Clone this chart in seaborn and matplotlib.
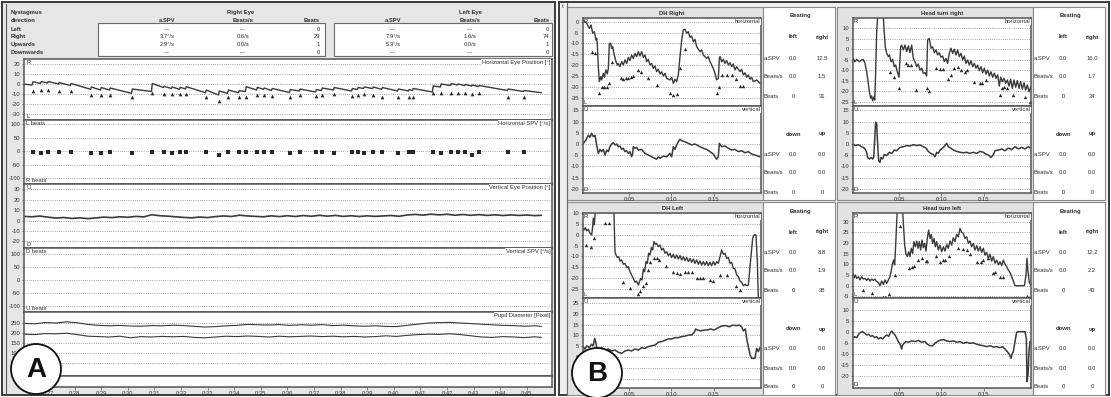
import matplotlib
matplotlib.use("Agg")
import matplotlib.pyplot as plt
import seaborn as sns
from matplotlib.patches import Rectangle, Circle
from matplotlib.lines import Line2D

# ---------------------------------------------------------------- data: panel A
beat_t = [26.44, 26.74, 27.00, 27.41, 27.86, 28.62, 28.99, 29.33, 30.16, 30.91,
          31.36, 31.66, 31.96, 32.19, 32.94, 33.43, 33.77, 34.18, 34.44, 34.86,
          35.12, 35.42, 36.10, 36.47, 37.08, 37.30, 37.75, 38.43, 38.65, 38.88,
          39.22, 39.56, 40.16, 40.57, 40.72, 41.47, 41.77, 42.15, 42.41, 42.68,
          42.94, 43.20, 44.29, 44.89]
beat_pos = [-7, -6, -6, -6.5, -7, -11, -11, -11, -12.7, -9,
            -10, -10, -10, -10, -13, -16.7, -13, -13, -13, -11,
            -11, -12, -13, -11, -12, -11, -10, -12, -11, -10,
            -11, -13, -13, -13, -13, -9, -9, -9, -9, -9,
            -10, -9, -13, -13]
beat_spv = [-3, -6, -5, -4, -3, -6, -6, -4, -6, -3,
            -5, -6, -5, -4, -4, -14, -3, -4, -4, -5,
            -4, -5, -6, -4, -5, -4, -6, -5, -4, -6,
            -5, -4, -6, -5, -4, -5, -6, -4, -5, -5,
            -15, -5, -4, -5]

hpos_t = [26.07, 26.40, 26.44, 26.72, 26.75, 26.98, 27.01, 27.39, 27.42, 27.84,
          27.87, 28.60, 28.63, 28.97, 29.00, 29.31, 29.34, 30.14, 30.17, 30.89,
          30.92, 31.34, 31.37, 31.64, 31.67, 31.94, 31.97, 32.17, 32.20, 32.92,
          32.95, 33.41, 33.44, 33.75, 33.78, 34.16, 34.19, 34.42, 34.45, 34.84,
          34.87, 35.10, 35.13, 35.40, 35.43, 36.08, 36.11, 36.45, 36.48, 37.06,
          37.09, 37.28, 37.31, 37.73, 37.76, 38.41, 38.44, 38.63, 38.66, 38.86,
          38.89, 39.20, 39.23, 39.54, 39.57, 40.14, 40.17, 40.55, 40.58, 40.70,
          40.73, 41.45, 41.48, 41.75, 41.78, 42.13, 42.16, 42.39, 42.42, 42.66,
          42.69, 42.92, 42.95, 43.18, 43.21, 44.27, 44.30, 44.87, 44.90, 45.55]
hpos_v = [0.0, -1.0, 2.3, 0.5, 2.5, 1.0, 2.5, 0.0, 1.5, -1.5,
          0.5, -5.3, -3.0, -6.0, -3.5, -6.0, -4.0, -9.3, -5.0, -7.5,
          0.5, -3.5, -2.3, -4.5, -3.0, -5.3, -3.3, -5.0, -2.7, -8.7,
          -6.0, -11.0, -7.0, -9.3, -6.0, -8.7, -6.7, -7.5, -2.7, -6.0,
          -3.3, -5.3, -4.0, -6.5, -4.5, -8.5, -5.5, -7.0, -5.0, -8.0,
          -5.5, -6.5, -4.0, -6.0, -3.5, -7.0, -4.5, -5.5, -3.5, -4.5,
          -3.0, -4.5, -3.0, -5.3, -3.5, -7.0, -5.0, -7.0, -5.5, -6.5,
          -4.5, -8.0, -2.0, -3.0, 0.0, -1.5, 0.5, -1.0, 0.0, -1.5,
          -0.5, -2.0, -1.0, -2.5, -1.5, -6.5, -5.0, -7.5, -6.5, -8.7]

vpos_t = [26.10, 26.40, 26.70, 27.00, 27.30, 27.60, 27.90, 28.20, 28.50, 28.80,
          29.10, 29.40, 29.70, 30.00, 30.30, 30.60, 30.90, 31.20, 31.50, 31.80,
          32.10, 32.40, 32.70, 33.00, 33.30, 33.60, 33.90, 34.20, 34.50, 34.80,
          35.10, 35.40, 35.70, 36.00, 36.30, 36.60, 36.90, 37.20, 37.50, 37.80,
          38.10, 38.40, 38.70, 39.00, 39.30, 39.60, 39.90, 40.20, 40.50, 40.80,
          41.10, 41.40, 41.70, 42.00, 42.30, 42.60, 42.90, 43.20, 43.50, 43.80,
          44.10, 44.40, 44.70, 45.00, 45.30, 45.55]
vpos_v = [4.0, 3.6, 4.3, 3.2, 2.4, 2.9, 2.0, 2.6, 1.8, 2.5,
          3.3, 2.8, 3.6, 3.1, 4.0, 3.5, 5.6, 4.6, 4.2, 3.6,
          3.0, 2.6, 3.4, 2.8, 3.8, 4.4, 3.9, 5.1, 4.4, 4.0,
          3.6, 4.5, 3.8, 4.6, 3.9, 4.8, 4.1, 5.0, 4.2, 4.9,
          4.0, 4.6, 3.9, 4.5, 4.0, 4.4, 4.8, 4.1, 5.3, 5.9,
          5.2, 6.1, 5.4, 6.0, 5.1, 5.8, 5.0, 5.7, 4.9, 5.5,
          4.8, 5.4, 4.9, 5.3, 4.7, 5.0]

pupil_t = [26.10, 26.50, 26.90, 27.30, 27.70, 28.10, 28.50, 28.90, 29.30, 29.70,
           30.10, 30.50, 30.90, 31.30, 31.70, 32.10, 32.50, 32.90, 33.30, 33.70,
           34.10, 34.50, 34.90, 35.30, 35.70, 36.10, 36.50, 36.90, 37.30, 37.70,
           38.10, 38.50, 38.90, 39.30, 39.70, 40.10, 40.50, 40.90, 41.30, 41.70,
           42.10, 42.50, 42.90, 43.30, 43.70, 44.10, 44.50, 44.90, 45.30, 45.55]
pupil_upper = [248, 246, 252, 250, 256, 251, 243, 238, 236, 238,
               235, 234, 237, 236, 239, 237, 233, 230, 232, 236,
               238, 243, 241, 240, 242, 238, 241, 239, 242, 237,
               239, 236, 234, 236, 233, 232, 238, 244, 250, 252,
               253, 250, 247, 244, 241, 238, 237, 234, 236, 233]
pupil_lower = [194, 192, 197, 196, 199, 192, 184, 182, 180, 184,
               176, 182, 180, 183, 181, 183, 178, 176, 180, 184,
               182, 185, 183, 180, 184, 181, 183, 185, 182, 184,
               181, 183, 180, 182, 186, 183, 188, 192, 194, 193,
               196, 192, 186, 180, 178, 182, 180, 177, 181, 178]

time_ticks_a = [27, 28, 29, 30, 31, 32, 33, 34, 35, 36, 37, 38, 39, 40, 41, 42, 43, 44, 45]
time_labels_a = ["0:27", "0:28", "0:29", "0:30", "0:31", "0:32", "0:33", "0:34", "0:35", "0:36",
                 "0:37", "0:38", "0:39", "0:40", "0:41", "0:42", "0:43", "0:44", "0:45"]

summary_rows = ["Left", "Right", "Upwards", "Downwards"]
right_eye_spv = ["---", "3.7°/s", "2.9°/s", "---"]
right_eye_rate = ["---", "0.6/s", "0.0/s", "---"]
right_eye_beats = ["0", "29", "1", "0"]
left_eye_spv = ["---", "7.9°/s", "5.3°/s", "---"]
left_eye_rate = ["---", "1.6/s", "0.0/s", "---"]
left_eye_beats = ["0", "74", "1", "0"]

# ---------------------------------------------------------------- data: panel B
dh_right_h = [(-0.37, 0.5), (0.02, -0.7), (0.33, -3.1), (0.53, -1.5), (0.73, -5.3), (0.92, -4.6),
              (1.12, -8.4), (1.20, -7.7), (1.27, -10.0), (1.39, -20.7), (1.51, -27.6), (1.67, -25.3),
              (1.78, -26.8), (1.98, -23.8), (2.10, -25.6), (2.29, -22.2), (2.45, -24.0), (2.57, -21.5),
              (2.69, -10.0), (2.84, -10.0), (2.96, -12.3), (3.08, -11.5), (3.27, -15.3), (3.47, -18.4),
              (3.63, -19.9), (3.75, -19.2), (3.94, -20.7), (4.14, -18.4), (4.33, -19.9), (4.53, -17.6),
              (4.73, -19.2), (4.92, -16.4), (5.12, -17.9), (5.31, -15.3), (5.51, -16.9), (5.71, -14.6),
              (5.90, -16.1), (6.10, -13.8), (6.29, -15.8), (6.49, -13.8), (6.69, -16.4), (6.88, -15.3),
              (7.08, -18.4), (7.27, -17.3), (7.47, -19.9), (7.67, -19.2), (7.86, -21.5), (8.06, -20.4),
              (8.25, -23.0), (8.45, -21.9), (8.65, -24.1), (8.84, -23.0), (9.04, -25.0), (9.24, -23.8),
              (9.43, -26.1), (9.82, -26.8), (10.02, -25.6), (10.22, -28.4), (10.41, -26.5), (10.61, -27.6),
              (10.80, -24.5), (11.00, -16.1), (11.20, -8.4), (11.39, -3.8), (11.59, -3.5), (11.78, -5.3),
              (11.98, -4.6), (12.18, -7.2), (12.37, -6.6), (12.57, -9.2), (12.76, -8.1), (12.96, -11.5),
              (13.35, -13.8), (13.55, -13.0), (13.75, -15.3), (14.14, -16.9), (14.33, -16.1), (14.53, -18.4),
              (14.72, -19.9), (14.92, -21.5), (15.12, -23.8), (15.31, -26.8), (15.51, -26.1), (15.63, -16.9),
              (15.71, -16.1), (15.90, -18.4), (16.10, -17.3), (16.29, -19.2), (16.49, -17.9), (16.69, -19.9),
              (16.88, -18.9), (17.08, -20.7), (17.27, -19.5), (17.47, -22.2), (17.67, -20.7), (18.06, -23.0),
              (18.25, -21.9), (18.45, -24.5), (18.65, -23.5), (18.84, -25.6), (19.04, -24.5), (19.24, -26.5),
              (19.43, -25.6), (19.63, -27.6), (20.02, -26.8), (20.41, -28.4)]
dh_right_tri = [(0.61, -14.1), (1.00, -14.6), (1.47, -33.0), (1.78, -30.2), (2.10, -30.2), (2.37, -30.0),
                (2.69, -28.4), (2.96, -18.4), (4.06, -26.1), (4.33, -26.5), (4.61, -26.1), (4.92, -25.8),
                (5.24, -25.3), (5.51, -25.0), (6.10, -22.2), (6.41, -23.0), (7.27, -25.8), (8.25, -29.1),
                (9.82, -33.0), (10.22, -33.7), (10.61, -33.5), (11.00, -21.5), (11.59, -12.7), (15.31, -32.7),
                (15.59, -30.2), (15.90, -24.5), (16.49, -24.5), (17.08, -24.5), (17.59, -26.5), (18.06, -29.6),
                (18.45, -29.6)]
dh_right_v = [(-0.37, 0.3), (-0.06, 1.8), (0.22, 4.0), (0.41, 3.0), (0.61, 4.8), (0.80, 3.3), (1.00, 3.9),
              (1.20, -0.4), (1.39, -4.2), (1.59, -2.4), (1.78, -3.4), (1.98, -2.4), (2.18, -4.9), (2.37, -2.7),
              (2.57, -3.4), (2.76, -1.2), (2.96, 0.0), (3.16, 0.6), (3.35, -0.4), (3.55, 0.0), (3.75, -1.2),
              (3.94, -0.9), (4.14, -2.4), (4.33, -1.9), (4.53, -3.4), (4.73, -3.0), (4.92, -4.2), (5.12, -3.4),
              (5.31, -5.7), (5.43, -4.2), (5.51, -1.2), (5.71, -1.9), (5.90, -1.5), (6.10, -2.7), (6.49, -2.4),
              (6.88, -4.2), (7.27, -4.9), (7.67, -5.7), (8.06, -6.4), (8.25, -6.8), (8.45, -5.7), (8.65, -6.4),
              (9.04, -5.4), (9.43, -5.7), (9.82, -4.2), (10.02, -5.7), (10.22, -1.2), (10.41, -2.4),
              (10.61, -0.4), (10.80, 1.0), (11.00, 2.1), (11.20, 1.5), (11.59, 1.0), (11.98, 0.3), (12.37, -0.4),
              (12.76, 0.0), (13.35, -1.2), (13.75, -1.9), (14.14, -2.4), (14.53, -3.4), (14.92, -4.5),
              (15.12, -5.7), (15.31, -6.8), (15.51, -5.7), (15.63, 0.3), (15.90, -1.2), (16.29, -0.9),
              (16.69, -1.9), (17.08, -2.7), (17.47, -2.4), (17.86, -3.4), (18.25, -3.0), (18.65, -3.9),
              (19.04, -3.4), (19.43, -4.5), (19.82, -4.9), (20.41, -5.7)]

ht_right_h = [(-0.41, -4.3), (-0.18, -5.9), (0.02, -4.8), (0.33, -5.9), (0.61, -5.1), (0.80, -4.8), (1.00, -6.7),
              (1.20, -10.7), (1.39, -16.2), (1.51, -20.2), (1.67, -23.3), (1.78, -22.2), (1.90, -24.5),
              (2.06, -22.6), (2.14, -24.1), (2.22, -16.2), (2.37, 7.6), (2.49, 15.5), (3.16, 15.5), (3.27, 7.6),
              (3.39, 1.2), (3.55, -1.9), (3.75, -3.5), (3.86, -2.7), (4.06, -5.9), (4.25, -4.8), (4.45, -8.3),
              (4.61, -7.5), (4.80, -10.7), (5.00, -13.3), (5.20, 1.2), (5.31, 2.0), (5.51, -0.3), (5.71, 2.0),
              (5.90, -1.1), (6.10, 1.6), (6.29, -1.6), (6.49, 2.0), (6.69, -4.3), (6.88, -5.9), (7.08, -8.3),
              (7.27, -7.0), (7.47, -9.9), (7.67, -9.0), (7.86, -11.4), (8.06, -11.1), (8.25, -12.7), (8.37, 4.4),
              (8.57, 5.2), (8.76, 0.5), (8.96, 1.2), (9.16, -1.6), (9.35, -0.3), (9.55, -2.7), (9.74, -1.6),
              (9.94, -3.8), (10.14, -3.2), (10.33, -5.9), (10.53, -4.3), (10.72, -6.7), (10.92, -1.9),
              (11.12, 0.5), (11.31, -1.9), (11.51, 0.0), (11.71, -2.7), (11.90, -0.3), (12.10, -3.5),
              (12.29, -1.9), (12.49, -5.1), (12.69, -3.2), (12.88, -6.7), (13.08, -5.1), (13.27, -7.5),
              (13.47, -5.4), (13.67, -8.3), (13.86, -6.7), (14.06, -9.0), (14.25, -7.5), (14.45, -10.2),
              (14.65, -8.3), (14.84, -11.1), (15.04, -9.0), (15.24, -11.8), (15.43, -9.9), (15.63, -12.7),
              (15.82, -10.7), (16.02, -13.3), (16.22, -11.4), (16.41, -13.8), (16.61, -12.2), (16.80, -17.5),
              (16.96, -13.3), (17.16, -15.4), (17.35, -13.8), (17.55, -16.2), (17.75, -14.6), (17.94, -17.5),
              (18.14, -14.3), (18.33, -18.6), (18.53, -14.6), (18.73, -18.1), (18.92, -14.9), (19.12, -18.6),
              (19.31, -15.4), (19.51, -19.0), (19.71, -15.9), (19.90, -19.4), (20.10, -17.0), (20.29, -20.2),
              (20.49, -18.1)]
ht_right_tri = [(3.94, -10.7), (4.45, -13.0), (5.04, -18.6), (5.82, -6.7), (6.10, -7.5), (6.37, -7.5),
                (7.00, -19.4), (8.25, -18.6), (8.53, -19.7), (9.35, -9.0), (9.82, -9.5), (10.14, -9.5),
                (10.80, -14.3), (11.08, -12.2), (11.51, -9.0), (11.90, -8.3), (12.29, -9.9), (12.76, -10.7),
                (13.04, -9.9), (13.82, -15.4), (14.53, -16.2), (14.76, -15.9), (15.24, -14.6), (16.88, -21.8),
                (17.08, -18.6), (17.39, -18.1), (17.67, -18.3), (18.37, -21.8), (19.82, -22.6), (20.41, -25.0)]
ht_right_v = [(-0.41, 0.0), (-0.18, -0.7), (0.22, -0.3), (0.61, -1.2), (0.80, -1.5), (1.00, -2.2), (1.20, -3.7),
              (1.31, -6.0), (1.51, -6.7), (1.71, -6.0), (1.90, -6.7), (2.02, -6.0), (2.14, 1.5), (2.25, 9.7),
              (2.37, 9.2), (2.49, 0.0), (2.61, -7.5), (2.76, -8.2), (2.88, -6.0), (3.08, -6.7), (3.27, -4.7),
              (3.55, -5.2), (3.86, -3.7), (4.14, -4.2), (4.45, -2.7), (4.73, -3.0), (5.12, -1.5), (5.51, -1.2),
              (5.90, -0.7), (6.29, -0.9), (6.69, -0.3), (7.08, -0.7), (7.47, -0.4), (7.86, -1.2), (8.18, -1.8),
              (8.45, -3.3), (8.73, -4.2), (9.04, -4.7), (9.24, -5.7), (9.43, -3.7), (9.63, -4.2), (9.82, -2.7),
              (10.14, -1.8), (10.41, -0.7), (10.61, 0.3), (10.80, -1.2), (11.08, -1.8), (11.39, -2.7),
              (11.78, -3.3), (12.18, -3.7), (12.57, -3.9), (12.96, -3.7), (13.35, -4.2), (13.75, -3.7),
              (14.14, -4.2), (14.53, -3.3), (14.92, -3.7), (15.24, -4.5), (15.51, -4.9), (15.82, -6.0),
              (16.10, -4.7), (16.29, -3.0), (16.69, -2.7), (17.08, -2.2), (17.47, -3.0), (17.86, -1.8),
              (18.25, -2.5), (18.65, -1.2), (19.04, -2.2), (19.43, -1.5), (19.82, -2.2), (20.22, -1.2),
              (20.50, -1.8)]

dh_left_h = [(-0.41, 3.1), (-0.29, 2.3), (-0.14, 3.4), (0.02, 1.9), (0.22, 2.6), (0.41, 0.8), (0.61, 0.0),
             (0.73, 3.9), (0.80, 7.8), (0.92, 4.7), (1.04, 10.8), (1.20, 14.0), (3.08, 14.0), (3.24, 9.3),
             (3.35, -7.8), (3.47, -9.3), (3.63, -10.5), (3.79, -10.1), (3.94, -12.1), (4.14, -11.6),
             (4.33, -13.6), (4.53, -13.2), (4.73, -15.2), (4.92, -14.7), (5.12, -17.1), (5.31, -18.6),
             (5.51, -20.2), (5.71, -22.0), (5.90, -21.4), (6.10, -23.3), (6.22, -22.0), (6.37, -20.2),
             (6.53, -20.9), (6.69, -15.8), (6.84, -17.1), (7.00, -12.4), (7.16, -13.2), (7.31, -8.5),
             (7.47, -9.3), (7.63, -5.9), (7.78, -7.0), (7.94, -3.1), (8.10, -4.3), (8.25, -3.9), (8.45, -5.4),
             (8.65, -4.7), (8.84, -7.0), (9.04, -6.2), (9.24, -8.5), (9.43, -7.8), (9.63, -9.6), (9.82, -8.5),
             (10.02, -10.5), (10.22, -9.0), (10.41, -10.9), (10.61, -9.3), (10.80, -11.2), (11.00, -9.6),
             (11.20, -11.6), (11.39, -10.1), (11.59, -11.9), (11.78, -10.5), (11.98, -12.4), (12.18, -10.9),
             (12.37, -12.7), (12.57, -11.2), (12.76, -13.2), (12.96, -11.6), (13.16, -13.6), (13.35, -12.1),
             (13.55, -14.0), (13.75, -12.4), (13.94, -14.0), (14.14, -12.4), (14.33, -14.3), (14.53, -12.7),
             (14.72, -14.3), (14.92, -12.4), (15.12, -14.0), (15.31, -12.4), (15.51, -13.2), (15.71, -10.1),
             (15.90, -7.0), (16.10, -9.0), (16.29, -8.5), (16.49, -10.9), (16.69, -10.5), (16.88, -13.2),
             (17.08, -12.7), (17.27, -15.5), (17.47, -15.8), (17.67, -18.6), (17.86, -19.4), (18.06, -21.4),
             (18.25, -22.0), (18.45, -23.6), (18.65, -22.9), (18.84, -23.6), (19.04, -23.3), (19.31, -11.6),
             (19.55, -1.6), (19.71, 0.0), (19.94, 0.0), (20.10, -12.4), (20.22, -29.5)]
dh_left_tri = [(-0.06, -4.7), (0.49, -5.7), (0.92, -1.2), (2.18, 5.4), (2.69, 5.4), (4.33, -22.0),
               (5.12, -24.8), (6.10, -27.6), (6.29, -26.0), (6.69, -23.7), (7.00, -22.5), (7.27, -16.3),
               (7.47, -12.7), (7.98, -10.9), (8.33, -10.5), (8.57, -11.6), (9.35, -14.3), (10.22, -17.1),
               (10.61, -17.8), (11.00, -18.3), (11.59, -17.1), (11.98, -17.1), (12.37, -17.4), (12.96, -19.8),
               (13.35, -20.2), (13.75, -20.2), (14.53, -20.9), (14.92, -21.4), (15.71, -18.6), (16.49, -18.6),
               (17.59, -23.6), (18.06, -25.6)]
dh_left_v = [(-0.41, 4.9), (-0.18, 3.8), (0.06, 5.3), (0.33, 4.4), (0.61, 6.0), (0.80, 5.3), (0.96, 8.7),
             (1.08, 7.2), (1.20, 4.4), (1.51, 3.8), (1.78, 4.4), (2.18, 3.3), (2.57, 3.8), (2.96, 2.9),
             (3.35, 3.3), (3.75, 2.3), (4.14, 1.8), (4.53, 2.9), (4.92, 3.3), (5.31, 2.9), (5.71, 3.8),
             (6.10, 3.3), (6.49, 4.4), (6.88, 4.1), (7.27, 4.9), (7.67, 5.3), (8.06, 5.6), (8.45, 6.9),
             (8.84, 7.2), (9.24, 7.8), (9.63, 8.4), (10.02, 8.4), (10.41, 9.0), (10.80, 9.0), (11.20, 9.5),
             (11.59, 9.7), (11.98, 10.2), (12.37, 10.2), (12.69, 11.5), (12.84, 13.0), (13.04, 12.5),
             (13.43, 12.1), (13.82, 12.5), (14.22, 12.5), (14.61, 13.0), (15.00, 12.5), (15.39, 13.3),
             (15.71, 14.0), (16.02, 14.5), (16.41, 14.5), (16.80, 14.0), (17.20, 14.8), (17.59, 14.5),
             (17.98, 14.8), (18.25, 14.0), (18.45, 12.1), (18.69, 13.0), (18.84, 8.7), (19.04, 4.9),
             (19.24, 1.1), (19.43, -0.5), (19.82, -0.5), (20.02, 4.1), (20.22, 2.6), (20.41, 4.4)]

ht_left_h = [(-0.41, 5.8), (-0.29, 3.7), (-0.14, 5.0), (0.02, 3.4), (0.22, 4.2), (0.41, 2.7), (0.61, 4.2),
             (0.80, 3.1), (1.00, 3.4), (1.20, 2.5), (1.39, 3.4), (1.59, 2.2), (1.78, 3.1), (1.98, 2.5),
             (2.18, 3.1), (2.37, 1.9), (2.57, 1.6), (2.76, 0.0), (2.96, 2.2), (3.16, 0.6), (3.35, 2.7),
             (3.55, 1.1), (3.75, 2.7), (3.94, 4.2), (4.10, 7.3), (4.25, 10.5), (4.37, 12.0), (4.49, 9.7),
             (4.61, 19.0), (4.73, 29.9), (4.80, 35.0), (5.43, 35.0), (5.55, 26.8), (5.67, 19.0), (5.82, 14.7),
             (5.98, 13.6), (6.14, 15.9), (6.29, 13.6), (6.45, 17.5), (6.61, 15.1), (6.76, 20.6), (6.92, 18.2),
             (7.08, 20.9), (7.24, 17.5), (7.39, 20.6), (7.55, 16.7), (7.71, 21.4), (7.86, 17.8), (8.02, 19.8),
             (8.18, 16.2), (8.33, 22.1), (8.49, 26.0), (8.65, 22.1), (8.80, 24.0), (8.96, 19.8), (9.12, 22.1),
             (9.27, 18.2), (9.43, 20.6), (9.63, 16.7), (9.82, 19.0), (10.02, 15.9), (10.22, 18.2),
             (10.41, 16.2), (10.61, 19.3), (10.80, 17.5), (11.00, 20.9), (11.20, 19.0), (11.39, 22.4),
             (11.59, 20.6), (11.78, 24.0), (11.98, 22.9), (12.18, 26.8), (12.37, 25.0), (12.57, 24.5),
             (12.76, 22.1), (12.96, 22.9), (13.16, 19.8), (13.35, 20.9), (13.55, 18.2), (13.75, 19.8),
             (13.94, 16.7), (14.14, 18.7), (14.33, 16.2), (14.53, 18.2), (14.72, 15.6), (14.92, 17.5),
             (15.12, 14.3), (15.31, 15.6), (15.51, 12.8), (15.71, 14.7), (15.90, 11.5), (16.10, 13.6),
             (16.29, 10.5), (16.49, 12.0), (16.69, 9.7), (16.88, 11.2), (17.08, 9.4), (17.27, 12.0),
             (17.47, 10.0), (17.67, 8.9), (17.86, 7.3), (18.06, 6.2), (18.25, 4.2), (18.45, 2.2), (18.65, 0.0),
             (19.75, 0.0), (19.94, 5.0), (20.06, 12.8), (20.18, 6.5), (20.33, 1.6), (20.50, 0.3)]
ht_left_tri = [(0.73, -2.0), (1.78, -3.3), (3.08, -5.4), (3.35, -5.1), (3.86, -3.9), (4.53, 5.0), (5.12, 27.9),
               (6.22, 8.4), (6.49, 8.9), (6.76, 9.3), (7.27, 12.0), (7.67, 13.1), (8.18, 11.5), (8.33, 11.5),
               (9.35, 13.9), (9.82, 11.2), (10.14, 12.0), (10.41, 12.0), (10.92, 13.9), (11.98, 17.5),
               (12.57, 17.0), (12.96, 16.7), (13.35, 14.7), (14.14, 11.2), (14.61, 11.2), (14.92, 12.0),
               (15.51, 12.8), (16.02, 6.1), (16.29, 6.5), (16.88, 4.2), (17.27, 4.2), (20.02, -4.8)]
ht_left_v = [(-0.41, -3.0), (-0.22, -2.3), (0.02, -2.7), (0.25, -1.2), (0.49, -0.3), (0.73, 0.0), (0.96, -0.7),
             (1.20, -1.5), (1.43, -1.2), (1.67, -2.1), (1.90, -1.8), (2.14, -2.7), (2.37, -2.3), (2.61, -3.3),
             (2.84, -2.7), (3.08, -3.3), (3.31, -2.3), (3.55, -1.5), (3.79, -2.1), (4.02, -0.3), (4.18, 0.3),
             (4.33, -0.7), (4.53, -1.5), (4.73, -3.0), (4.92, -4.5), (5.12, -5.7), (5.31, -7.9), (5.43, -6.1),
             (5.59, -5.3), (5.82, -4.5), (6.10, -4.8), (6.49, -4.2), (6.88, -4.5), (7.27, -4.0), (7.67, -4.8),
             (8.06, -4.5), (8.33, -5.7), (8.65, -6.4), (8.96, -6.4), (9.24, -5.3), (9.51, -4.5), (9.82, -3.9),
             (10.22, -3.6), (10.61, -4.2), (11.00, -4.5), (11.39, -4.2), (11.78, -4.8), (12.18, -4.5),
             (12.57, -5.3), (12.96, -4.8), (13.35, -5.3), (13.75, -5.1), (14.14, -5.7), (14.53, -6.1),
             (14.92, -6.4), (15.31, -6.8), (15.71, -6.4), (16.10, -7.0), (16.49, -6.8), (16.88, -7.3),
             (17.20, -6.8), (17.47, -7.9), (17.75, -9.1), (17.98, -10.3), (18.18, -12.1), (18.29, -10.3),
             (18.45, -9.1), (18.65, -4.5), (18.84, -0.3), (19.04, 0.0), (19.82, 0.0), (19.98, -3.0),
             (20.06, -22.7), (20.18, -19.7), (20.29, -9.1), (20.41, -4.5)]

time_ticks_b = [5, 10, 15]
time_labels_b = ["0:05", "0:10", "0:15"]

dh_right_table = [["0.0", "12.5"], ["0.0", "1.5"], ["0", "31"]]
ht_right_table = [["0.0", "16.0"], ["0.0", "1.7"], ["0", "34"]]
dh_left_table = [["0.0", "8.8"], ["0.0", "1.9"], ["0", "38"]]
ht_left_table = [["0.0", "12.2"], ["0.0", "2.2"], ["0", "43"]]
vertical_table = [["0.0", "0.0"], ["0.0", "0.0"], ["0", "0"]]
table_rows = ["a.SPV", "Beats/s", "Beats"]

# ---------------------------------------------------------------- style
sns.set_theme(style="white")
plt.rcParams['font.family'] = ['Liberation Sans', 'DejaVu Sans']
plt.rcParams['axes.unicode_minus'] = False

W, H = 1111, 397
fig = plt.figure(figsize=(W / 100, H / 100), dpi=100)
TXT = '#2e2e2e'
LINE = '#3a3a3a'
FS = 4.2


def px_axes(x0, y0, x1, y1):
    return fig.add_axes([x0 / W, 1 - y1 / H, (x1 - x0) / W, (y1 - y0) / H])


bg = px_axes(0, 0, W, H)
bg.set_xlim(0, W)
bg.set_ylim(H, 0)
bg.axis('off')
bg.set_zorder(-10)


def btext(x, y, s, ha='left', bold=False, size=FS, color=TXT):
    bg.text(x, y, s, ha=ha, va='center', fontsize=size, color=color,
            fontweight='bold' if bold else 'normal')


def style_axes(ax, xlim, ylim, yticks, xticks=None, xlabels=None):
    ax.set_facecolor('white')
    ax.set_xlim(*xlim)
    ax.set_ylim(*ylim)
    ax.set_yticks(yticks)
    ax.set_yticklabels([f'{v:g}' for v in yticks])
    ax.grid(axis='y', ls=(0, (1, 1.6)), lw=0.6, color='#8c8c8c')
    ax.grid(axis='x', visible=False)
    ax.tick_params(axis='y', direction='out', length=1.8, width=0.5, pad=1,
                   labelsize=FS, colors='#555', labelcolor=TXT, left=True)
    if xticks is not None:
        ax.set_xticks(xticks)
        ax.set_xticklabels(xlabels)
        ax.tick_params(axis='x', direction='out', length=1.8, width=0.5, pad=1,
                       labelsize=FS, colors='#555', labelcolor=TXT, bottom=True)
    else:
        ax.set_xticks([])
    ax.set_xlabel('')
    ax.set_ylabel('')
    for sp in ax.spines.values():
        sp.set_color('#555555')
        sp.set_linewidth(1.1)


def corner_text(ax, top, bottom, right):
    ax.text(0.004, 0.985, top, transform=ax.transAxes, ha='left', va='top', fontsize=FS, color=TXT)
    ax.text(0.004, 0.012, bottom, transform=ax.transAxes, ha='left', va='bottom', fontsize=FS, color=TXT)
    if right:
        ax.text(0.997, 0.985, right, transform=ax.transAxes, ha='right', va='top', fontsize=FS, color=TXT,
                bbox=dict(fc='white', ec='none', pad=0.4))


def trace(ax, pts=None, t=None, v=None, lw=0.9):
    if pts is not None:
        t = [p[0] for p in pts]
        v = [p[1] for p in pts]
    sns.lineplot(x=t, y=v, ax=ax, color=LINE, lw=lw, sort=False, estimator=None)


def marks(ax, pts=None, t=None, v=None, marker='^', size=7):
    if pts is not None:
        t = [p[0] for p in pts]
        v = [p[1] for p in pts]
    sns.scatterplot(x=t, y=v, ax=ax, marker=marker, s=size, color='#262626', linewidth=0)


# ---------------------------------------------------------------- panel A frame and summary table
bg.add_patch(Rectangle((2, 2), 553, 393, fc='#e6e6e6', ec='#3a3a3a', lw=1.4))
bg.add_line(Line2D([6, 6], [4, 394], color='#5a5a5a', lw=0.8))
bg.add_patch(Rectangle((98, 23), 227, 33, fc='white', ec='#6a6a6a', lw=0.8))
bg.add_patch(Rectangle((334, 23), 218, 33, fc='white', ec='#6a6a6a', lw=0.8))

row_y = [29.3, 36.5, 44.3, 52.3]
btext(11, 12.7, "Nystagmus", bold=True)
btext(11, 20.7, "direction", bold=True)
for name, y in zip(summary_rows, row_y):
    btext(11, y, name, bold=True)
btext(241, 12.7, "Right Eye", ha='center', bold=True)
btext(167, 20.7, "a.SPV", ha='center', bold=True)
btext(243, 20.7, "Beats/s", ha='center', bold=True)
btext(320, 20.7, "Beats", ha='right', bold=True)
btext(470, 12.7, "Left Eye", ha='center', bold=True)
btext(393, 20.7, "a.SPV", ha='center', bold=True)
btext(470, 20.7, "Beats/s", ha='center', bold=True)
btext(550, 20.7, "Beats", ha='right', bold=True)
for i, y in enumerate(row_y):
    btext(167, y, right_eye_spv[i], ha='center')
    btext(243, y, right_eye_rate[i], ha='center')
    btext(320, y, right_eye_beats[i], ha='right')
    btext(393, y, left_eye_spv[i], ha='center')
    btext(470, y, left_eye_rate[i], ha='center')
    btext(549, y, left_eye_beats[i], ha='right')

# ---------------------------------------------------------------- panel A recordings
XA = (26.098, 45.947)
ax1 = px_axes(24, 59, 552, 120)
trace(ax1, t=hpos_t, v=hpos_v, lw=1.0)
marks(ax1, t=beat_t, v=beat_pos, marker='^', size=7)
style_axes(ax1, XA, (-36, 25), [20, 10, 0, -10, -20, -30])
corner_text(ax1, "R", "L", "Horizontal Eye Position [°]")

ax2 = px_axes(24, 120, 552, 184)
marks(ax2, t=beat_t, v=beat_spv, marker='s', size=8)
style_axes(ax2, XA, (-122, 115), [100, 50, 0, -50, -100])
corner_text(ax2, "L beats", "R beats", "Horizontal SPV [°/s]")

ax3 = px_axes(24, 184, 552, 248)
trace(ax3, t=vpos_t, v=vpos_v, lw=1.2)
style_axes(ax3, XA, (-26.4, 35.1), [30, 20, 10, 0, -10, -20])
corner_text(ax3, "U", "D", "Vertical Eye Position [°]")

ax4 = px_axes(24, 248, 552, 312)
style_axes(ax4, XA, (-123, 123), [100, 50, 0, -50, -100])
corner_text(ax4, "D beats", "U beats", "Vertical SPV [°/s]")

ax5 = px_axes(24, 312, 552, 376)
trace(ax5, t=pupil_t, v=pupil_upper, lw=0.8)
trace(ax5, t=pupil_t, v=pupil_lower, lw=0.8)
style_axes(ax5, XA, (-15, 305), [250, 200, 150, 100, 50])
ax5.text(0.997, 0.985, "Pupil Diameter [Pixel]", transform=ax5.transAxes, ha='right', va='top',
         fontsize=FS, color=TXT, bbox=dict(fc='white', ec='none', pad=0.4))

ax6 = px_axes(24, 376, 552, 387)
style_axes(ax6, XA, (0, 1), [], time_ticks_a, time_labels_a)

# ---------------------------------------------------------------- panel B
bg.add_patch(Rectangle((559, 2), 550, 393, fc='#efefef', ec='#3a3a3a', lw=1.4))
bg.add_line(Line2D([567, 567], [3, 394], color='#6a6a6a', lw=0.8))
bg.text(563, 4, "t", ha='center', va='top', fontsize=FS, color=TXT)

XB = (-0.41, 20.53)
subpanels = [
    (567, 7, 18, 106, 193, "DH Right", dh_right_h, dh_right_tri, dh_right_v,
     (-38.8, 1.7), [0, -5, -10, -15, -20, -25, -30, -35],
     (-21.9, 17.0), [15, 10, 5, 0, -5, -10, -15, -20], dh_right_table),
    (837, 7, 18, 106, 193, "Head turn right", ht_right_h, ht_right_tri, ht_right_v,
     (-27.0, 14.9), [10, 5, 0, -5, -10, -15, -20, -25],
     (-21.9, 17.0), [15, 10, 5, 0, -5, -10, -15, -20], ht_right_table),
    (567, 202, 213, 298, 388, "DH Left", dh_left_h, dh_left_tri, dh_left_v,
     (-29.3, 10.2), [10, 5, 0, -5, -10, -15, -20, -25],
     (-14.1, 27.2), [25, 20, 15, 10, 5, 0, -5, -10], dh_left_table),
    (837, 202, 213, 298, 388, "Head turn left", ht_left_h, ht_left_tri, ht_left_v,
     (-5.75, 34.0), [30, 25, 20, 15, 10, 5, 0, -5],
     (-25.6, 15.3), [10, 5, 0, -5, -10, -15, -20], ht_left_table),
]

for (ox, oy, ytop, ymid, ybot, title, hpts, tpts, vpts,
     hylim, hticks, vylim, vticks, table) in subpanels:
    bg.add_patch(Rectangle((ox, oy), 196, 193, fc='#e2e2e2', ec='#8a8a8a', lw=0.8))
    bg.add_patch(Rectangle((ox + 196, oy), 72, 193, fc='white', ec='#8a8a8a', lw=0.8))
    btext(ox + 105, oy + 6, title, ha='center', bold=True)

    axh = px_axes(ox + 16, ytop, ox + 194, ymid)
    trace(axh, pts=hpts, lw=1.0)
    marks(axh, pts=tpts, marker='^', size=6)
    style_axes(axh, XB, hylim, hticks)
    corner_text(axh, "R", "L", "horizontal")

    axv = px_axes(ox + 16, ymid, ox + 194, ybot)
    trace(axv, pts=vpts, lw=1.1)
    style_axes(axv, XB, vylim, vticks, time_ticks_b, time_labels_b)
    corner_text(axv, "U", "D", "vertical")

    # beating summary table
    lx, c1, c2 = ox + 197, ox + 226, ox + 255
    btext(ox + 233, oy + 9, "Beating", ha='center', bold=True)
    btext(c1, oy + 30, "left", ha='center', bold=True)
    btext(c2, oy + 30, "right", ha='center', bold=True)
    for name, vals, dy in zip(table_rows, table, [51, 69, 89]):
        btext(lx, oy + dy, name)
        btext(c1, oy + dy, vals[0], ha='center')
        btext(c2, oy + dy, vals[1], ha='center')
    btext(c1, oy + 127, "down", ha='center', bold=True)
    btext(c2, oy + 127, "up", ha='center', bold=True)
    for name, vals, dy in zip(table_rows, vertical_table, [147, 166, 185]):
        btext(lx, oy + dy, name)
        btext(c1, oy + dy, vals[0], ha='center')
        btext(c2, oy + dy, vals[1], ha='center')

# ---------------------------------------------------------------- panel letters
ov = px_axes(0, 0, W, H)
ov.set_xlim(0, W)
ov.set_ylim(H, 0)
ov.axis('off')
ov.patch.set_alpha(0)
ov.set_zorder(30)
for cx, cy, letter in [(36, 369, "A"), (597, 373, "B")]:
    ov.add_patch(Circle((cx, cy), 25, fc='white', ec='#111111', lw=1.3))
    ov.text(cx, cy + 1, letter, ha='center', va='center', fontsize=20, fontweight='bold',
            color='#111111', family='Liberation Sans')

fig.savefig("out.png", dpi=100)
